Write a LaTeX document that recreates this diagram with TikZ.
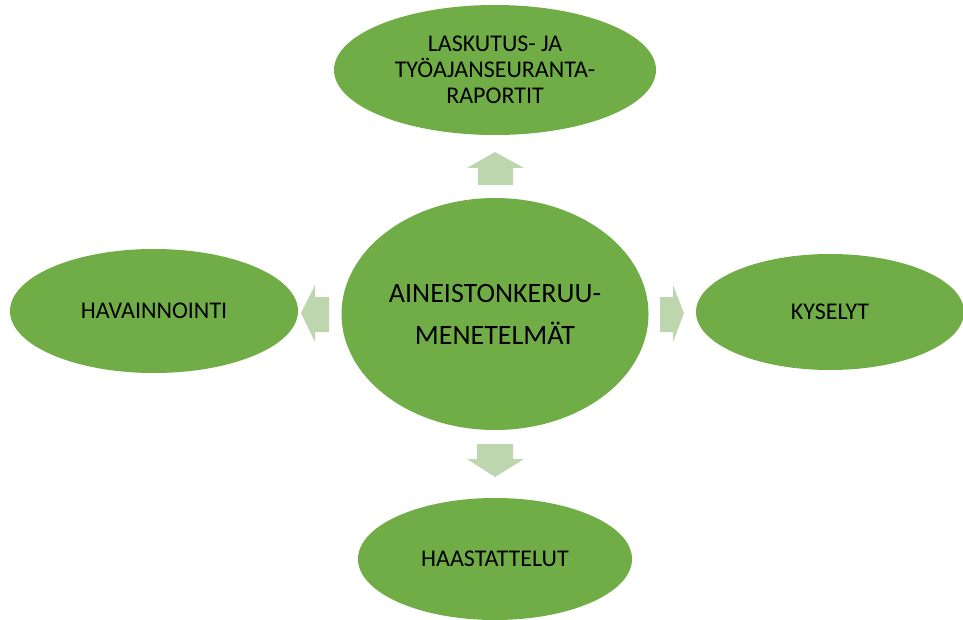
\documentclass[tikz,border=0pt]{standalone}
\usepackage{fontspec}
\setmainfont{Carlito}
\usetikzlibrary{shapes.geometric}
\definecolor{leaf}{HTML}{70AD47}
\definecolor{paleleaf}{HTML}{BDD6AD}
\tikzset{
  bubble/.style={ellipse, fill=leaf, draw=none, inner sep=0pt, align=center,
    font=\fontsize{24}{26}\selectfont, text=black},
  hub/.style={bubble, font=\fontsize{28}{42}\selectfont},
  blockarrow/.style={fill=paleleaf, draw=none}
}
\begin{document}
\begin{tikzpicture}[x=1pt, y=-1pt]
  \useasboundingbox (0,0) rectangle (963,620);

  % ellipses
  \node[hub, minimum width=307pt, minimum height=232pt] (hub) at (495,314)
    {AINEISTONKERUU-\\MENETELMÄT};
  \node[bubble, minimum width=322pt, minimum height=130pt] (top) at (495,70)
    {LASKUTUS- JA\\TYÖAJANSEURANTA-\\RAPORTIT};
  \node[bubble, minimum width=288pt, minimum height=124pt] (left) at (154,311)
    {HAVAINNOINTI};
  \node[bubble, minimum width=268pt, minimum height=116pt] (right) at (830,312)
    {KYSELYT};
  \node[bubble, minimum width=274pt, minimum height=122pt] (bottom) at (495,559)
    {HAASTATTELUT};

  % block arrows pointing outwards from the hub
  \fill[blockarrow] (478,185) -- (478,168) -- (467,168) -- (495,152)
    -- (524,168) -- (513,168) -- (513,185) -- cycle;
  \fill[blockarrow] (477,444) -- (513,444) -- (513,459) -- (524,459)
    -- (495,477) -- (467,459) -- (477,459) -- cycle;
  \fill[blockarrow] (329,297) -- (315,297) -- (315,285) -- (301,313)
    -- (315,342) -- (315,332) -- (329,332) -- cycle;
  \fill[blockarrow] (660,297) -- (673,297) -- (673,285) -- (684,313)
    -- (673,342) -- (673,332) -- (660,332) -- cycle;
\end{tikzpicture}
\end{document}
